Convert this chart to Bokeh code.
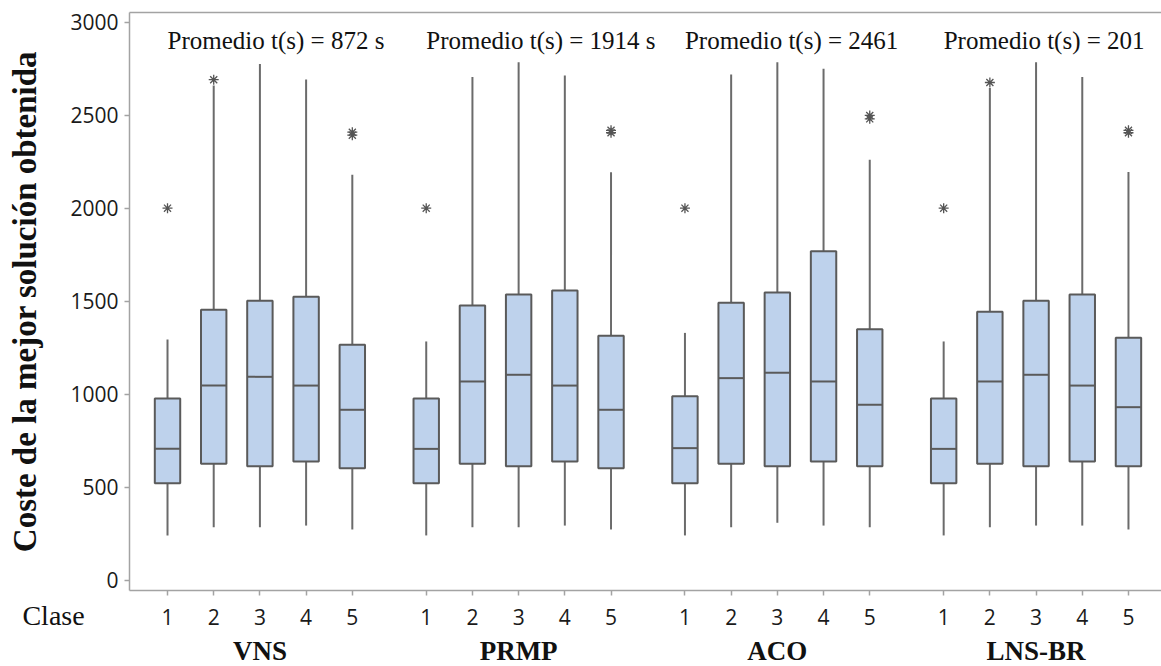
from bokeh.plotting import figure
from bokeh.models import ColumnDataSource, FixedTicker, Label, LinearAxis, Range1d
from bokeh.core.properties import value
from bokeh.embed import file_html
from bokeh.resources import INLINE

# Algorithms compared and instance classes
algorithms = ["VNS", "PRMP", "ACO", "LNS-BR"]
classes = ["1", "2", "3", "4", "5"]
mean_time_labels = [
    "Promedio t(s) = 872 s",
    "Promedio t(s) = 1914 s",
    "Promedio t(s) = 2461",
    "Promedio t(s) = 201",
]

# Box statistics of the best solution cost, one row per algorithm, one value per class
whisker_low = [
    [242, 286, 286, 295, 274],
    [242, 286, 286, 295, 274],
    [242, 286, 310, 295, 286],
    [242, 286, 295, 295, 274],
]
q1 = [
    [523, 627, 614, 639, 603],
    [523, 627, 614, 639, 603],
    [523, 627, 614, 639, 614],
    [523, 627, 614, 639, 614],
]
median = [
    [707, 1047, 1094, 1047, 917],
    [707, 1069, 1105, 1047, 917],
    [711, 1087, 1116, 1069, 944],
    [707, 1069, 1105, 1047, 931],
]
q3 = [
    [978, 1454, 1502, 1524, 1266],
    [978, 1477, 1536, 1558, 1314],
    [990, 1492, 1547, 1769, 1350],
    [978, 1443, 1502, 1536, 1304],
]
whisker_high = [
    [1295, 2659, 2775, 2691, 2179],
    [1284, 2704, 2784, 2713, 2193],
    [1330, 2718, 2784, 2749, 2260],
    [1284, 2646, 2784, 2704, 2194],
]

# Outliers
outlier_alg = ["VNS", "VNS", "VNS", "VNS",
               "PRMP", "PRMP", "PRMP",
               "ACO", "ACO", "ACO",
               "LNS-BR", "LNS-BR", "LNS-BR", "LNS-BR"]
outlier_class = ["1", "2", "5", "5",
                 "1", "5", "5",
                 "1", "5", "5",
                 "1", "2", "5", "5"]
outlier_cost = [2000, 2690, 2392, 2408,
                2000, 2405, 2418,
                2000, 2480, 2498,
                2000, 2675, 2405, 2418]

y_ticks = [0, 500, 1000, 1500, 2000, 2500, 3000]

# Horizontal layout: classes one unit apart, groups GROUP_STEP units apart
GROUP_STEP = 5.6
BOX_W = 0.55


def xpos(alg, cls):
    return algorithms.index(alg) * GROUP_STEP + classes.index(cls)


def flat(rows):
    return [v for row in rows for v in row]


box_x = [xpos(a, c) for a in algorithms for c in classes]
src = ColumnDataSource(dict(
    x=box_x,
    left=[x - BOX_W / 2 for x in box_x], right=[x + BOX_W / 2 for x in box_x],
    lo=flat(whisker_low), q1=flat(q1), med=flat(median),
    q3=flat(q3), hi=flat(whisker_high),
))
out_src = ColumnDataSource(dict(
    x=[xpos(a, c) for a, c in zip(outlier_alg, outlier_class)],
    cost=outlier_cost,
))

group_centers = [g * GROUP_STEP + 2 for g in range(len(algorithms))]

AXIS_GREY = "#a3a3a3"
BOX_EDGE = "#5a5a5a"
X_START, X_END = -3.615, 21.515   # whole canvas width
Y_MIN, Y_MAX = -462, 3115.5        # whole canvas height
AX_X0, AX_Y0, AX_Y1 = -0.82, -54, 3051  # plot box corners

p = figure(
    width=1161, height=666,
    x_range=Range1d(X_START, X_END), y_range=Range1d(Y_MIN, Y_MAX),
    x_axis_location=None, y_axis_location=None,
    output_backend="svg", toolbar_location=None,
    min_border_left=0, min_border_right=0, min_border_top=0, min_border_bottom=0,
)
p.background_fill_color = "white"
p.border_fill_color = "white"
p.outline_line_color = None
p.grid.visible = False


def style_axis(ax):
    ax.axis_line_color = AXIS_GREY
    ax.axis_line_width = 1.5
    ax.major_tick_line_color = AXIS_GREY
    ax.major_tick_line_width = 1.5
    ax.major_tick_out = 5
    ax.major_tick_in = 0
    ax.minor_tick_line_color = None
    ax.major_label_text_font = "Open Sans"
    ax.major_label_text_font_size = "21px"
    ax.major_label_text_color = "#1a1a1a"


# y axis
ya = LinearAxis(ticker=FixedTicker(ticks=y_ticks), fixed_location=AX_X0, bounds=(AX_Y0, AX_Y1))
style_axis(ya)
ya.major_label_standoff = 6
ya.axis_label = "Coste de la mejor solución obtenida"
ya.axis_label_text_font = "Liberation Serif"
ya.axis_label_text_font_size = "33px"
ya.axis_label_text_font_style = "bold"
ya.axis_label_text_color = "#111111"
ya.axis_label_standoff = 24
p.add_layout(ya, "left")

# x axis: class numbers
xa = LinearAxis(ticker=FixedTicker(ticks=box_x), fixed_location=AX_Y0, bounds=(AX_X0, X_END))
style_axis(xa)
xa.major_label_standoff = 13
xa.major_label_overrides = {x: c for x, c in zip(box_x, classes * len(algorithms))}
p.add_layout(xa, "below")

# second row: algorithm names
ga = LinearAxis(ticker=FixedTicker(ticks=group_centers), fixed_location=AX_Y0)
ga.axis_line_color = None
ga.major_tick_line_color = None
ga.major_tick_out = 0
ga.major_tick_in = 0
ga.minor_tick_line_color = None
ga.major_label_standoff = 45
ga.major_label_overrides = dict(zip(group_centers, algorithms))
ga.major_label_text_font = "Liberation Serif"
ga.major_label_text_font_size = "27px"
ga.major_label_text_font_style = "bold"
ga.major_label_text_color = "#111111"
p.add_layout(ga, "below")

# top border of the plot box
ta = LinearAxis(ticker=FixedTicker(ticks=[]), fixed_location=AX_Y1, bounds=(AX_X0, X_END))
ta.axis_line_color = AXIS_GREY
ta.axis_line_width = 1.5
ta.major_tick_line_color = None
ta.minor_tick_line_color = None
p.add_layout(ta, "above")

# whiskers
p.segment(x0="x", y0="q3", x1="x", y1="hi", source=src, line_color="#6b6b6b", line_width=2)
p.segment(x0="x", y0="lo", x1="x", y1="q1", source=src, line_color="#6b6b6b", line_width=2)

# boxes and medians
p.vbar(x="x", width=BOX_W, bottom="q1", top="q3", source=src,
       fill_color="#bed2ec", line_color=BOX_EDGE, line_width=2)
p.segment(x0="left", y0="med", x1="right", y1="med",
          source=src, line_color=BOX_EDGE, line_width=2)

# outliers
p.scatter(x="x", y="cost", source=out_src, marker="asterisk", size=10,
          line_color="#555555", line_width=1.3)

# mean run time per algorithm
p.text(x=[g * GROUP_STEP for g in range(len(algorithms))], y=[2900] * len(algorithms),
       text=mean_time_labels,
       text_font=value("Liberation Serif"), text_font_size="25px",
       text_align="left", text_baseline="alphabetic", text_color="#111111")

# caption of the class row
p.add_layout(Label(x=-3.14, y=-190, text="Clase",
                   text_font="Liberation Serif", text_font_size="28px",
                   text_baseline="middle", text_color="#111111"))

open("out.html", "w").write(file_html(p, INLINE))
